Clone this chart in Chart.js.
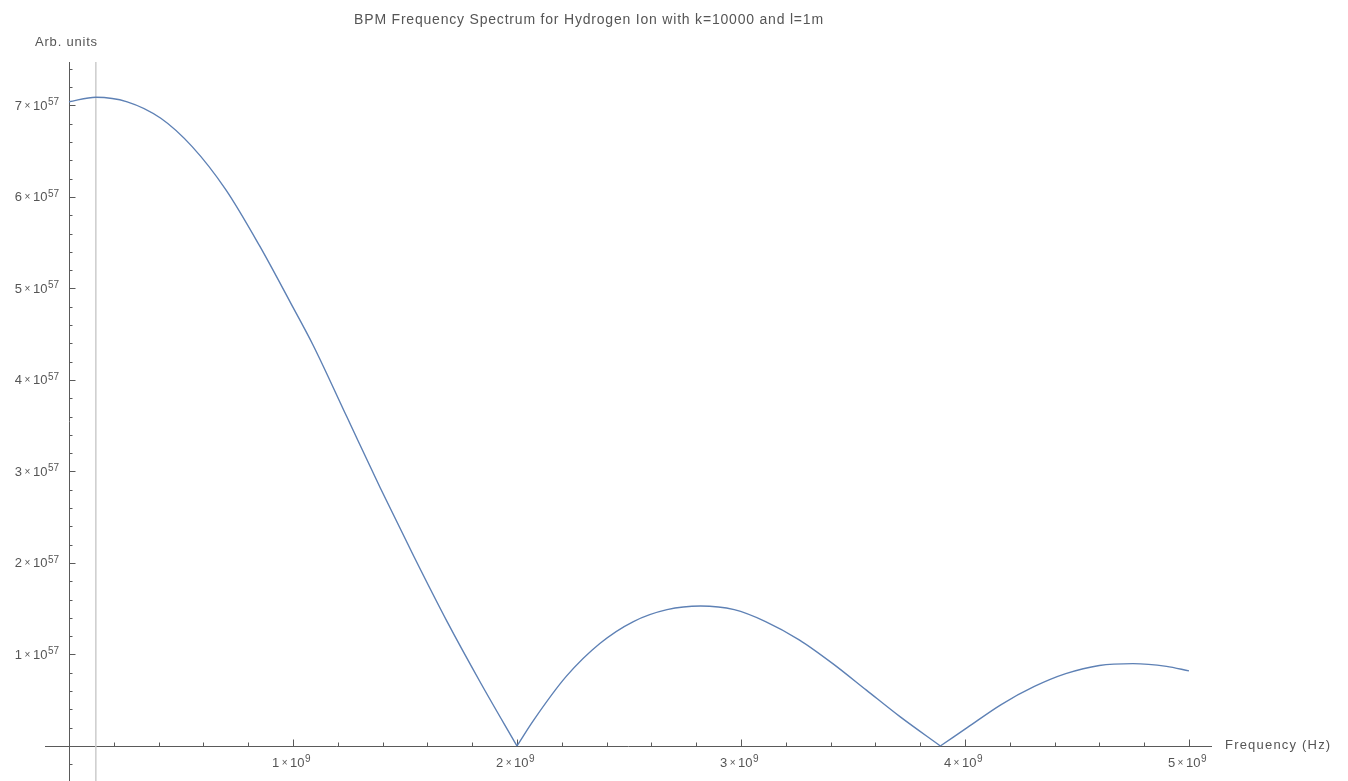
<!DOCTYPE html>
<html>
<head>
<meta charset="utf-8">
<script src="https://cdn.jsdelivr.net/npm/chart.js@4"></script>
<style>
  body { margin: 0; background: #fff; }
</style>
</head>
<body>
<canvas id="spectrum" width="1348" height="781"></canvas>
<script>
// values: frequency in Hz, amplitude in arb. units
const freqHz = [
  0, 0.12e9, 0.26e9, 0.41e9, 0.55e9, 0.70e9, 0.85e9, 0.99e9, 1.09e9, 1.24e9,
  1.39e9, 1.54e9, 1.69e9, 1.84e9, 2.0e9,
  2.074e9, 2.22e9, 2.37e9, 2.52e9, 2.67e9, 2.82e9, 2.97e9, 3.11e9, 3.26e9,
  3.41e9, 3.56e9, 3.71e9, 3.89e9,
  4.01e9, 4.16e9, 4.31e9, 4.45e9, 4.60e9, 4.75e9, 4.90e9, 5.0e9
];
const amplitude = [
  7.04e57, 7.09e57, 7.04e57, 6.86e57, 6.55e57, 6.08e57, 5.47e57, 4.84e57, 4.38e57, 3.60e57,
  2.82e57, 2.07e57, 1.35e57, 0.68e57, 0,
  0.28e57, 0.76e57, 1.12e57, 1.36e57, 1.49e57, 1.53e57, 1.49e57, 1.36e57, 1.16e57,
  0.90e57, 0.61e57, 0.32e57, 0,
  0.20e57, 0.45e57, 0.65e57, 0.79e57, 0.88e57, 0.90e57, 0.87e57, 0.82e57
];

const markerFreq = 0.12e9; // light grey vertical line

// tick labels: mantissa × 10^exp
const xTickValues = [1e9, 2e9, 3e9, 4e9, 5e9];
const xTickMantissa = ['1', '2', '3', '4', '5'];
const xTickExp = '9';
const yTickValues = [1e57, 2e57, 3e57, 4e57, 5e57, 6e57, 7e57];
const yTickMantissa = ['1', '2', '3', '4', '5', '6', '7'];
const yTickExp = '57';

const titleText = 'BPM Frequency Spectrum for Hydrogen Ion with k=10000 and l=1m';
const yAxisLabel = 'Arb. units';
const xAxisLabel = 'Frequency (Hz)';

const xMin = -0.107e9, xMax = 5.103e9, xMinorStep = 0.2e9;
const yMin = -0.383e57, yMax = 7.475e57, yMinorStep = 0.2e57;

const FONT = '"Liberation Sans", Arial, sans-serif';
const TEXT = '#555';
const AXIS = '#5a5a5a';
const GAP = 2.5;

// split the curve into lobes at the zeros so the cusps stay sharp
function lobes() {
  const out = [];
  let cur = [];
  freqHz.forEach((f, i) => {
    cur.push({ x: f, y: amplitude[i] });
    if (amplitude[i] === 0 && cur.length > 1) {
      out.push(cur);
      cur = [{ x: f, y: 0 }];
    }
  });
  if (cur.length > 1) out.push(cur);
  return out;
}

function sciWidth(ctx, m, e) {
  ctx.font = '13px ' + FONT;
  const wm = ctx.measureText(m).width, w10 = ctx.measureText('10').width;
  ctx.font = '10px ' + FONT;
  const wx = ctx.measureText('\u00d7').width;
  const we = ctx.measureText(e).width;
  return { wm, wx, w10, we, total: wm + GAP + wx + GAP + w10 + we };
}

// "m × 10^e", left edge x, main baseline y
function drawSci(ctx, m, e, x, y) {
  const w = sciWidth(ctx, m, e);
  ctx.textAlign = 'left';
  ctx.textBaseline = 'alphabetic';
  ctx.font = '13px ' + FONT;
  ctx.fillText(m, x, y);
  ctx.font = '10px ' + FONT;
  ctx.fillText('\u00d7', x + w.wm + GAP, y - 1);
  ctx.font = '13px ' + FONT;
  ctx.fillText('10', x + w.wm + GAP + w.wx + GAP, y);
  ctx.font = '10px ' + FONT;
  ctx.fillText(e, x + w.wm + GAP + w.wx + GAP + w.w10 + 0.5, y - 4.5);
}

const axesPlugin = {
  id: 'mmaAxes',
  beforeDatasetsDraw(chart) {
    const { ctx, scales: { x, y } } = chart;
    const x0 = Math.round(x.getPixelForValue(0)) + 0.5;
    const y0 = Math.round(y.getPixelForValue(0)) + 0.5;
    ctx.save();
    ctx.strokeStyle = AXIS;
    ctx.lineWidth = 1;
    ctx.beginPath();
    ctx.moveTo(x.left, y0); ctx.lineTo(x.right, y0);
    ctx.moveTo(x0, y.top); ctx.lineTo(x0, y.bottom);

    // x ticks (pointing up)
    for (let v = xMinorStep; v <= xMax; v += xMinorStep) {
      const px = Math.round(x.getPixelForValue(v)) + 0.5;
      const major = xTickValues.some(t => Math.abs(t - v) < xMinorStep / 10);
      ctx.moveTo(px, y0); ctx.lineTo(px, y0 - (major ? 7 : 4));
    }
    // y ticks (pointing right)
    for (let v = -yMinorStep; v <= yMax; v += yMinorStep) {
      if (Math.abs(v) < yMinorStep / 10) continue;
      const py = Math.round(y.getPixelForValue(v)) + 0.5;
      const major = yTickValues.some(t => Math.abs(t - v) < yMinorStep / 10);
      ctx.moveTo(x0, py); ctx.lineTo(x0 + (major ? 6 : 3), py);
    }
    ctx.stroke();

    ctx.fillStyle = TEXT;
    xTickValues.forEach((v, i) => {
      const w = sciWidth(ctx, xTickMantissa[i], xTickExp);
      const px = x.getPixelForValue(v);
      drawSci(ctx, xTickMantissa[i], xTickExp, px - 2 - w.total / 2, y0 + 20);
    });
    yTickValues.forEach((v, i) => {
      const w = sciWidth(ctx, yTickMantissa[i], yTickExp);
      const py = y.getPixelForValue(v);
      drawSci(ctx, yTickMantissa[i], yTickExp, x0 - 11 - w.total, py + 4.5);
    });

    // title and axis labels
    ctx.textBaseline = 'middle';
    ctx.letterSpacing = '0.8px';
    ctx.font = '14px ' + FONT;
    ctx.textAlign = 'center';
    ctx.fillText(titleText, 589, 20);
    ctx.letterSpacing = '0.8px';
    ctx.font = '13px ' + FONT;
    ctx.textAlign = 'left';
    ctx.fillText(yAxisLabel, 35, 42);
    ctx.letterSpacing = '1.2px';
    ctx.fillText(xAxisLabel, x.right + 13, y0 - 1);
    ctx.restore();
  }
};

const curveSets = lobes().map((pts, i) => ({
  label: 'lobe ' + (i + 1),
  data: pts,
  borderColor: '#5e81b5',
  borderWidth: 1.4,
  pointRadius: 0,
  cubicInterpolationMode: 'monotone',
  fill: false
}));

new Chart(document.getElementById('spectrum'), {
  type: 'line',
  data: {
    datasets: curveSets.concat([{
      label: 'marker',
      data: [{ x: markerFreq, y: yMin }, { x: markerFreq, y: yMax }],
      borderColor: '#cccccc',
      borderWidth: 1.5,
      pointRadius: 0,
      fill: false
    }])
  },
  options: {
    responsive: false,
    devicePixelRatio: 1,
    animation: false,
    layout: { padding: { left: 45, right: 136, top: 62, bottom: 0 } },
    plugins: {
      legend: { display: false },
      tooltip: { enabled: false },
      title: { display: false }
    },
    scales: {
      x: { type: 'linear', min: xMin, max: xMax, display: false },
      y: { type: 'linear', min: yMin, max: yMax, display: false }
    }
  },
  plugins: [axesPlugin]
});
</script>
</body>
</html>
